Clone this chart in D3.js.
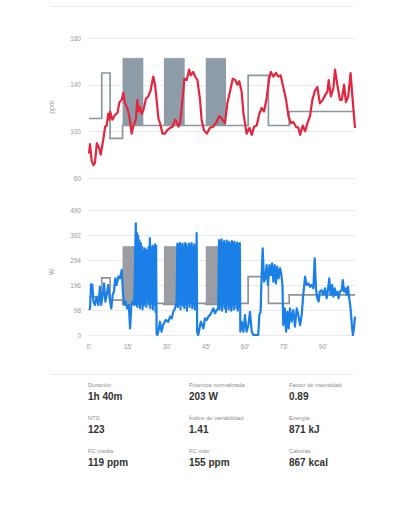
<!DOCTYPE html>
<html>
<head>
<meta charset="utf-8">
<script src="https://d3js.org/d3.v7.min.js"></script>
<style>
  body { margin: 0; background: #fff; }
  svg { display: block; font-family: "Liberation Sans", Arial, sans-serif; }
</style>
</head>
<body>
<svg id="chart" width="399" height="512"></svg>
<script>
// time axis (minutes)
const timeTicks = [0, 15, 30, 45, 60, 75, 90];
const timeEnd = 102.3;

// heart rate (ppm)
const hrTicks = [60, 100, 140, 180];
const hrTime = [0, 0.4, 1, 1.7, 2.3, 3, 4, 4.5, 5.5, 6.2, 6.8, 7.4, 7.8, 8.1, 9, 10, 11, 11.7, 12.6, 13.2, 13.8, 14.7, 15.5, 16, 16.4, 17, 18, 18.6, 19, 19.6, 20.3, 20.9, 21.9, 22.8, 23.7, 24.7, 25.4, 26, 26.7, 27.3, 28.3, 29.2, 30.1, 31.2, 32.2, 33.1, 33.7, 34.4, 35, 36, 36.7, 37.6, 38.5, 39.1, 40.1, 40.8, 41.7, 42.7, 43.3, 44.2, 45.3, 46.5, 47.8, 48.8, 50.1, 51, 52.3, 53.2, 54.2, 55.3, 56.2, 57.1, 57.8, 58.7, 59.4, 60, 60.6, 61.7, 62.6, 63.5, 64.5, 65.5, 66.4, 67.3, 68.3, 69.2, 69.9, 70.9, 71.9, 72.8, 73.7, 74.7, 75.8, 76.7, 77.6, 78.6, 79.6, 80.5, 81.2, 82.2, 83.1, 84, 85, 85.9, 86.9, 87.8, 88.8, 89.9, 90.8, 91.7, 92.2, 93, 94, 94.6, 95.5, 96.5, 97.2, 98.1, 98.8, 99.7, 100.6, 101.4, 102.3];
const hr = [81, 89, 75, 71, 73, 90, 85, 80, 93, 104, 105, 115, 110, 117, 110, 114, 116, 125, 127, 133, 124, 120, 113, 105, 98, 104, 110, 127, 117, 121, 115, 118, 128, 130, 135, 147, 140, 127, 111, 107, 98, 98, 101, 103, 104, 110, 108, 104, 107, 128, 145, 144, 153, 148, 151, 147, 144, 127, 110, 101, 98, 103, 104, 107, 113, 111, 107, 124, 134, 145, 144, 140, 143, 134, 115, 107, 98, 103, 97, 104, 105, 115, 120, 117, 128, 144, 151, 147, 150, 147, 148, 138, 127, 113, 107, 108, 104, 103, 97, 105, 100, 107, 113, 127, 135, 138, 124, 127, 131, 134, 144, 130, 137, 153, 140, 127, 127, 140, 125, 130, 150, 127, 103];

// heart rate target: steady steps and interval blocks
const hrSteps = [[0, 4.9, 111], [4.9, 8.1, 150], [8.1, 12.9, 94], [20.9, 28.8, 105], [36.8, 44.9, 105], [52.7, 61.2, 105], [61.2, 69, 148], [69, 77, 105], [77, 102.3, 117]];
const hrBlocks = [[12.9, 20.9, 105, 163], [28.8, 36.8, 105, 163], [44.9, 52.7, 105, 163]];

// power (W)
const powerTicks = [0, 98, 196, 294, 392, 490];
const powerTime = [0, 0.4, 0.8, 1.3, 1.7, 2.3, 2.9, 3.6, 4.2, 4.7, 5.3, 5.8, 6.3, 6.8, 7.4, 8.1, 8.6, 9.1, 9.6, 10.1, 10.6, 11.3, 11.9, 12.6, 13.1, 13.6, 14.1, 14.7, 15.3, 15.8, 16.3, 16.8, 17.4,
  18, 18.2, 18.4, 18.6, 18.9, 19.1, 19.4, 19.6, 19.9, 20.1, 20.4, 20.6, 20.9, 21.1, 21.4, 21.6, 21.9, 22.1, 22.4, 22.6, 22.9, 23.1, 23.4, 23.6, 23.9, 24.1, 24.4, 24.6, 24.9, 25.1, 25.4, 25.6, 25.8, 26,
  26.3, 26.8, 27.3, 27.9, 28.5, 29.5, 30.5, 31.2, 31.8, 32.4, 33.1, 33.7,
  34, 34.2, 34.5, 34.7, 35, 35.2, 35.5, 35.7, 36, 36.2, 36.5, 36.7, 37, 37.2, 37.5, 37.7, 38, 38.2, 38.5, 38.7, 39, 39.2, 39.5, 39.7, 40, 40.2, 40.5, 40.7, 41, 41.2, 41.4, 41.6,
  42, 42.5, 43, 44, 44.6, 45.3, 45.9, 46.5, 47.2, 47.8, 48.5, 49.1, 49.7,
  50, 50.2, 50.5, 50.7, 51, 51.2, 51.5, 51.7, 52, 52.2, 52.5, 52.7, 53, 53.2, 53.5, 53.7, 54, 54.2, 54.5, 54.7, 55, 55.2, 55.5, 55.7, 56, 56.2, 56.5, 56.7, 57, 57.2, 57.5, 57.7, 58, 58.2,
  58.7, 59.4, 60, 60.6, 61.3, 61.9, 62.6, 63.2, 64.5, 65.1, 65.5, 66, 66.4, 66.8, 67.3, 67.8, 68.3, 68.8, 69.4, 69.9, 70.4, 70.9, 71.4, 71.9, 72.4, 72.9, 73.5, 74, 74.4, 74.7, 75.3, 75.8, 76.3, 76.8, 77.3, 77.9, 78.6, 79.2, 79.9, 80.5, 81.2, 81.8,
  82.4, 83.1, 83.7, 84.4, 85, 85.6, 86.3, 86.8, 87.3, 87.8, 88.3, 88.8, 89.5, 90.1, 90.8, 91.4, 91.9, 92.4, 92.9, 93.5, 94, 94.5, 95, 95.5, 96, 96.5, 97.2, 97.6, 98.1, 98.6, 99.1, 99.6, 100.1, 100.6, 101.2, 101.5, 101.9, 102.3];
const power = [98, 104, 199, 196, 130, 118, 150, 118, 189, 118, 157, 202, 131, 157, 196, 131, 104, 157, 170, 222, 196, 229, 222, 255, 157, 118, 131, 104, 118, 26, 118, 131, 118,
  438, 120, 400, 110, 390, 125, 370, 105, 360, 130, 345, 100, 330, 115, 340, 125, 335, 110, 330, 140, 345, 120, 380, 105, 340, 130, 350, 100, 345, 120, 355, 90, 350, 5,
  0, 20, 52, 13, 39, 59, 52, 72, 65, 91, 104, 131,
  358, 110, 355, 125, 360, 100, 350, 130, 358, 115, 345, 105, 360, 120, 355, 95, 340, 125, 358, 110, 350, 130, 360, 105, 345, 120, 355, 100, 330, 110, 399, 10,
  0, 26, 52, 26, 65, 59, 72, 78, 91, 104, 85, 98, 104,
  372, 100, 365, 115, 375, 95, 360, 120, 368, 105, 355, 90, 370, 118, 360, 100, 365, 110, 355, 95, 368, 115, 360, 100, 365, 120, 350, 105, 362, 95, 355, 110, 360, 13,
  52, 13, 78, 13, 39, 91, 13, 0, 0, 0, 78, 91, 235, 340, 209, 222, 274, 196, 274, 235, 281, 209, 274, 202, 268, 222, 261, 235, 196, 39, 104, 13, 91, 26, 104, 52, 98, 33, 104, 78, 39, 78,
  157, 229, 196, 202, 189, 196, 183, 300, 183, 144, 131, 170, 176, 157, 183, 144, 176, 222, 157, 196, 150, 183, 157, 170, 144, 170, 176, 215, 170, 183, 157, 189, 144, 104, 26, 0, 26, 72];

// power target
const powerSteps = [[0, 4.9, 150], [4.9, 8.1, 224], [8.1, 12.9, 137], [20.9, 28.8, 124], [36.8, 44.9, 124], [52.7, 61.2, 124], [61.2, 69, 229], [69, 77, 124], [77, 102.3, 157]];
const powerBlocks = [[12.9, 20.9, 120, 349], [28.8, 36.8, 120, 349], [44.9, 52.7, 120, 349]];

// summary
const statLabels = ["Duración", "Potencia normalizada", "Factor de intensidad", "NTS", "Índice de variabilidad", "Energía", "FC media", "FC máx", "Calorías"];
const statValues = ["1h 40m", "203 W", "0.89", "123", "1.41", "871 kJ", "119 ppm", "155 ppm", "867 kcal"];

const svg = d3.select("#chart");
const x = d3.scaleLinear().domain([0, timeEnd]).range([89, 355]);

svg.append("line").attr("x1", 50).attr("x2", 353).attr("y1", 6.5).attr("y2", 6.5)
  .attr("stroke", "#ececec").attr("stroke-width", 1);

function panel(cfg) {
  const y = d3.scaleLinear().domain(cfg.domain).range(cfg.range);
  const g = svg.append("g");

  // grid + tick labels
  g.selectAll(".grid").data(cfg.ticks).join("line")
    .attr("x1", 88).attr("x2", 356)
    .attr("y1", d => Math.round(y(d)) + 0.5).attr("y2", d => Math.round(y(d)) + 0.5)
    .attr("stroke", "#ebebeb").attr("stroke-width", 1);
  g.selectAll(".tl").data(cfg.ticks).join("text")
    .attr("x", 81).attr("y", d => y(d) + 2.5)
    .attr("text-anchor", "end").attr("font-size", 6.5).attr("fill", "#9a9a9a")
    .text(d => d);

  g.append("text")
    .attr("transform", `translate(54,${cfg.labelY}) rotate(-90)`)
    .attr("text-anchor", "middle").attr("font-size", 7).attr("fill", "#9a9a9a")
    .text(cfg.label);

  // interval blocks
  g.selectAll(".blk").data(cfg.blocks).join("rect")
    .attr("x", d => x(d[0])).attr("width", d => x(d[1]) - x(d[0]))
    .attr("y", d => y(d[3])).attr("height", d => y(d[2]) - y(d[3]))
    .attr("fill", cfg.blockColor);
  g.selectAll(".blkTop").data(cfg.blocks).join("line")
    .attr("x1", d => x(d[0])).attr("x2", d => x(d[1]))
    .attr("y1", d => y(d[3])).attr("y2", d => y(d[3]))
    .attr("stroke", "#fff").attr("stroke-width", 0.8).attr("stroke-dasharray", "0.8,0.8");

  // target step line (blocks enter at their low value)
  const segs = cfg.steps.concat(cfg.blocks.map(b => [b[0], b[1], b[2]]))
    .sort((a, b) => a[0] - b[0]);
  const pts = [];
  segs.forEach(s => { pts.push([s[0], s[2]]); pts.push([s[1], s[2]]); });
  g.append("path")
    .attr("d", d3.line().x(d => x(d[0])).y(d => y(d[1]))(pts))
    .attr("fill", "none").attr("stroke", cfg.targetColor).attr("stroke-width", 1.7);

  // actual series
  const data = cfg.time.map((t, i) => [t, cfg.values[i]]);
  g.append("path")
    .attr("d", d3.line().x(d => x(d[0])).y(d => y(d[1]))(data))
    .attr("fill", "none").attr("stroke", cfg.color).attr("stroke-width", 2.2)
    .attr("stroke-linejoin", "round");
  return y;
}

panel({
  domain: [60, 180], range: [178, 38], ticks: hrTicks, label: "ppm", labelY: 107,
  blocks: hrBlocks, steps: hrSteps, blockColor: "#8d9ca6", targetColor: "#8b979f",
  time: hrTime, values: hr, color: "#e4253f"
});

panel({
  domain: [0, 490], range: [335, 210], ticks: powerTicks, label: "W", labelY: 272,
  blocks: powerBlocks, steps: powerSteps, blockColor: "#9a9ea2", targetColor: "#8f9397",
  time: powerTime, values: power, color: "#1a7fe6"
});

svg.selectAll(".xt").data(timeTicks).join("text")
  .attr("x", d => x(d)).attr("y", 349)
  .attr("text-anchor", "middle").attr("font-size", 6.5).attr("fill", "#9a9a9a")
  .text(d => d + "'");

svg.append("line").attr("x1", 50).attr("x2", 353).attr("y1", 374.5).attr("y2", 374.5)
  .attr("stroke", "#ececec").attr("stroke-width", 1);

// stats grid
const colX = [88, 189, 289];
const rowY = [387, 420, 453];
const stats = svg.append("g");
statLabels.forEach((lab, i) => {
  const cx = colX[i % 3], ry = rowY[Math.floor(i / 3)];
  stats.append("text").attr("x", cx).attr("y", ry)
    .attr("font-size", 5.8).attr("fill", "#8c8c8c").text(lab);
  stats.append("text").attr("x", cx).attr("y", ry + 13)
    .attr("font-size", 10).attr("font-weight", "bold").attr("fill", "#333").text(statValues[i]);
});
</script>
</body>
</html>
